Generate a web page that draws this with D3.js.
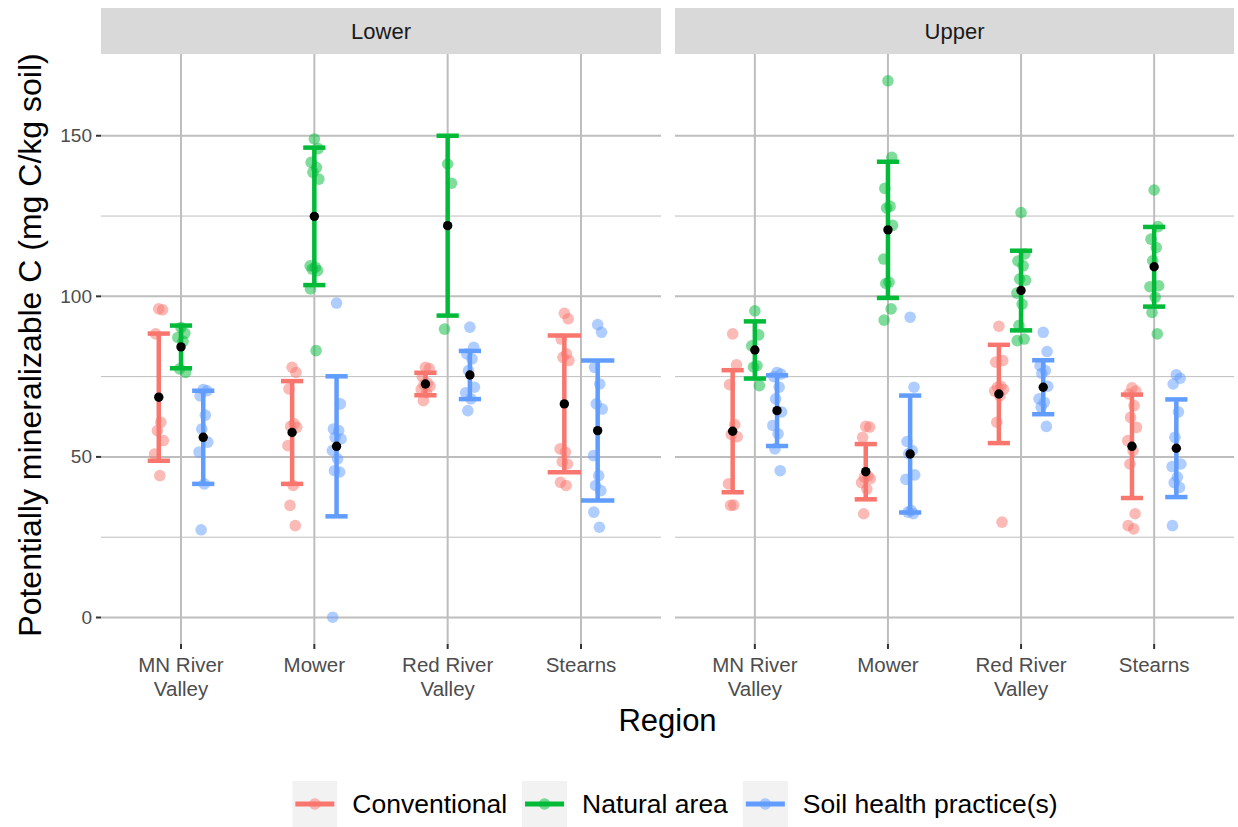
<!DOCTYPE html>
<html><head><meta charset="utf-8">
<script src="https://cdn.jsdelivr.net/npm/d3@7"></script>
<style>body{margin:0;background:#fff;}svg{display:block;font-family:"Liberation Sans",Arial,sans-serif;}</style>
</head><body>
<svg id="chart" width="1238" height="827"></svg>
<script>
// ---------- data ----------
const facets = ["Lower", "Upper"];
const regions = ["MN River Valley", "Mower", "Red River Valley", "Stearns"];
const regionLabels = [["MN River", "Valley"], ["Mower"], ["Red River", "Valley"], ["Stearns"]];
const treatments = ["Conventional", "Natural area", "Soil health practice(s)"];
const yTicks = [0, 50, 100, 150];
const yMinorTicks = [25, 75, 125];

// individual observations, per region (order of `regions`)
const lowerConvPts = [
  [96.1, 95.8, 88.3, 60.8, 58.2, 55.1, 50.9, 44.2],
  [77.9, 76.3, 71.2, 60.3, 59.5, 59.2, 53.5, 41.1, 34.9, 28.6],
  [77.9, 77.5, 75, 73, 72.5, 72, 71, 70, 67.5],
  [94.7, 93.0, 86.7, 82.1, 81, 80, 52.5, 51.5, 48.5, 47.8, 42.1, 41.1]
];
const lowerNatPts = [
  [90.3, 88.5, 87.2, 86, 77.4, 76.3],
  [149, 146, 141.7, 140.1, 138.6, 136.5, 109.5, 109, 108.5, 108, 102.3, 83.1],
  [141.2, 135.2, 89.8],
  []
];
const lowerSoilPts = [
  [71, 70.6, 69, 63, 58.7, 54.6, 51.5, 41.6, 27.3],
  [97.9, 66.5, 58.7, 58.2, 56.1, 55.6, 52, 49.4, 45.7, 45.3, 0.1],
  [90.4, 84.1, 82.1, 80.5, 76.9, 71.7, 70, 68.1, 64.4],
  [91.2, 88.8, 77.9, 72.7, 66.5, 64.9, 50.4, 44.2, 41.1, 39.5, 32.8, 28.1]
];
const upperConvPts = [
  [88.3, 78.7, 72.5, 60.1, 57, 56.3, 41.6, 35, 34.9],
  [59.5, 59.3, 56.1, 44, 43.7, 43.2, 42, 40, 32.3],
  [90.7, 80, 79.5, 72, 71.7, 71, 70.5, 69, 60.8, 29.7],
  [71.5, 70.5, 69.6, 66, 62.3, 59.2, 55.1, 52, 47.8, 32.3, 28.6, 27.6]
];
const upperNatPts = [
  [95.5, 88, 84.6, 78.4, 78, 72.2],
  [167.1, 143.3, 133.6, 128, 127.5, 122.1, 111.6, 104.4, 104, 96.1, 92.6],
  [126.1, 113.2, 111, 109.5, 105.4, 105, 101, 97.6, 90.9, 86.7, 86.2],
  [133.1, 121.7, 117.8, 115.2, 111.1, 103.3, 103, 99.7, 95, 88.3]
];
const upperSoilPts = [
  [76.3, 75.8, 75, 71.7, 68.1, 64, 59.8, 57.2, 52.5, 45.7],
  [93.5, 71.7, 54.8, 52, 51, 44.4, 43, 33.3, 32.8, 32.3],
  [88.8, 82.8, 78.4, 76.9, 76, 72, 68.1, 67, 65.5, 59.5],
  [75.6, 74.5, 72.7, 64, 56.1, 47.8, 47, 43.7, 42, 40.5, 28.6]
];

// group means and standard deviations (null = group absent)
const lowerConvMean = [68.6, 57.6, 72.7, 66.5];
const lowerConvSD   = [19.8, 16.0, 3.5, 21.3];
const lowerNatMean  = [84.25, 124.9, 122.0, null];
const lowerNatSD    = [6.65, 21.4, 28.0, null];
const lowerSoilMean = [56.1, 53.3, 75.5, 58.2];
const lowerSoilSD   = [14.5, 21.8, 7.5, 21.8];
const upperConvMean = [58.0, 45.4, 69.6, 53.3];
const upperConvSD   = [19.0, 8.6, 15.3, 16.1];
const upperNatMean  = [83.3, 120.7, 101.8, 109.2];
const upperNatSD    = [8.9, 21.2, 12.4, 12.4];
const upperSoilMean = [64.4, 50.9, 71.7, 52.7];
const upperSoilSD   = [11.0, 18.2, 8.4, 15.2];

// ---------- assemble ----------
const ptsByFacet = {
  Lower: [lowerConvPts, lowerNatPts, lowerSoilPts],
  Upper: [upperConvPts, upperNatPts, upperSoilPts]
};
const meanByFacet = {
  Lower: [[lowerConvMean, lowerConvSD], [lowerNatMean, lowerNatSD], [lowerSoilMean, lowerSoilSD]],
  Upper: [[upperConvMean, upperConvSD], [upperNatMean, upperNatSD], [upperSoilMean, upperSoilSD]]
};

// ---------- style / layout ----------
const colors = ["#F8766D", "#00BA38", "#619CFF"];
const W = 1238, H = 827;
const panelTop = 54, panelBottom = 644;
const panelX = { Lower: [101, 661], Upper: [675, 1234] };
const gridCol = "#bebebe";
const jit = [0, 0.55, -0.45, 0.3, -0.2, 0.65, -0.6, 0.15, -0.3, 0.45, -0.55, 0.25];

const svg = d3.select("#chart");
svg.append("rect").attr("width", W).attr("height", H).attr("fill", "#fff");

// y extent with 5% expansion
let allVals = [];
facets.forEach(f => {
  ptsByFacet[f].forEach(t => t.forEach(a => allVals.push(...a)));
  meanByFacet[f].forEach(([m, s]) => m.forEach((v, i) => { if (v != null) { allVals.push(v + s[i], v - s[i]); } }));
});
const [ymin, ymax] = d3.extent(allVals);
const pad = (ymax - ymin) * 0.05;
const y = d3.scaleLinear().domain([ymin - pad, ymax + pad]).range([panelBottom, panelTop]);

facets.forEach(f => {
  const [x0, x1] = panelX[f];
  const x = d3.scalePoint().domain(regions).range([x0, x1]).padding(0.6);
  const step = x.step();
  const g = svg.append("g");

  // strip
  g.append("rect").attr("x", x0).attr("y", 8).attr("width", x1 - x0).attr("height", panelTop - 8).attr("fill", "#d9d9d9");
  g.append("text").attr("x", (x0 + x1) / 2).attr("y", 31).attr("text-anchor", "middle")
    .attr("dominant-baseline", "central").attr("font-size", 22).attr("fill", "#1a1a1a").text(f);

  // grid
  yMinorTicks.forEach(t => g.append("line").attr("x1", x0).attr("x2", x1).attr("y1", y(t)).attr("y2", y(t))
    .attr("stroke", gridCol).attr("stroke-width", 1));
  yTicks.forEach(t => g.append("line").attr("x1", x0).attr("x2", x1).attr("y1", y(t)).attr("y2", y(t))
    .attr("stroke", gridCol).attr("stroke-width", 2));
  regions.forEach(r => g.append("line").attr("x1", x(r)).attr("x2", x(r)).attr("y1", panelTop).attr("y2", panelBottom)
    .attr("stroke", gridCol).attr("stroke-width", 2));

  // x axis ticks & labels
  regions.forEach((r, i) => {
    g.append("line").attr("x1", x(r)).attr("x2", x(r)).attr("y1", panelBottom).attr("y2", panelBottom + 5)
      .attr("stroke", "#333").attr("stroke-width", 2);
    regionLabels[i].forEach((ln, k) => g.append("text").attr("x", x(r)).attr("y", 672 + k * 24)
      .attr("text-anchor", "middle").attr("font-size", 20.5).attr("fill", "#4d4d4d").text(ln));
  });

  // y axis on left panel
  if (f === "Lower") {
    yTicks.forEach(t => {
      g.append("line").attr("x1", x0 - 5).attr("x2", x0).attr("y1", y(t)).attr("y2", y(t)).attr("stroke", "#333").attr("stroke-width", 2);
      g.append("text").attr("x", x0 - 9).attr("y", y(t)).attr("text-anchor", "end").attr("dominant-baseline", "central")
        .attr("font-size", 19).attr("fill", "#4d4d4d").text(t);
    });
  }

  // dodge per region
  regions.forEach((r, ri) => {
    const present = treatments.map((t, ti) => meanByFacet[f][ti][0][ri] != null ? ti : -1).filter(v => v >= 0);
    const n = present.length;
    const gw = 0.5 / n; // group width in category units
    present.forEach((ti, k) => {
      const cx = x(r) + (k - (n - 1) / 2) * gw * step;
      const pts = ptsByFacet[f][ti][ri];
      g.selectAll(null).data(pts).enter().append("circle")
        .attr("cx", (d, i) => cx + jit[i % jit.length] * 7)
        .attr("cy", d => y(d)).attr("r", 5.8)
        .attr("fill", colors[ti]).attr("fill-opacity", 0.5);
    });
    present.forEach((ti, k) => {
      const cx = x(r) + (k - (n - 1) / 2) * gw * step;
      const m = meanByFacet[f][ti][0][ri], s = meanByFacet[f][ti][1][ri];
      const hw = gw * step / 2;
      const eb = g.append("g").attr("stroke", colors[ti]).attr("stroke-width", 4.5).attr("fill", "none");
      eb.append("line").attr("x1", cx).attr("x2", cx).attr("y1", y(m + s)).attr("y2", y(m - s));
      eb.append("line").attr("x1", cx - hw).attr("x2", cx + hw).attr("y1", y(m + s)).attr("y2", y(m + s));
      eb.append("line").attr("x1", cx - hw).attr("x2", cx + hw).attr("y1", y(m - s)).attr("y2", y(m - s));
    });
    present.forEach((ti, k) => {
      const cx = x(r) + (k - (n - 1) / 2) * gw * step;
      const m = meanByFacet[f][ti][0][ri];
      g.append("circle").attr("cx", cx).attr("cy", y(m)).attr("r", 4.7).attr("fill", "#000");
    });
  });
});

// axis titles
svg.append("text").attr("x", (101 + 1234) / 2).attr("y", 720).attr("text-anchor", "middle")
  .attr("dominant-baseline", "central").attr("font-size", 31).attr("fill", "#000").text("Region");
svg.append("text").attr("transform", `translate(30,${(panelTop + panelBottom) / 2 - 4}) rotate(-90)`)
  .attr("text-anchor", "middle").attr("dominant-baseline", "central").attr("font-size", 32).attr("fill", "#000")
  .text("Potentially mineralizable C (mg C/kg soil)");

// legend
const leg = svg.append("g");
const keyW = 45, keyH = 46, gapText = 15, gapItem = 15, legY = 781;
let items = [];
treatments.forEach((t, i) => {
  const it = leg.append("g");
  it.append("rect").attr("width", keyW).attr("height", keyH).attr("fill", "#f2f2f2");
  it.append("line").attr("x1", 3).attr("x2", keyW - 3).attr("y1", keyH / 2).attr("y2", keyH / 2)
    .attr("stroke", colors[i]).attr("stroke-width", 5);
  it.append("circle").attr("cx", keyW / 2).attr("cy", keyH / 2).attr("r", 5.8).attr("fill", colors[i]).attr("fill-opacity", 0.5);
  const tx = it.append("text").attr("x", keyW + gapText).attr("y", keyH / 2).attr("dominant-baseline", "central")
    .attr("font-size", 26.5).attr("fill", "#000").text(t);
  items.push([it, keyW + gapText + tx.node().getComputedTextLength()]);
});
const total = d3.sum(items, d => d[1]) + gapItem * (items.length - 1);
let cx = 675 - total / 2;
items.forEach(([it, w]) => { it.attr("transform", `translate(${cx},${legY})`); cx += w + gapItem; });
</script>
</body></html>
